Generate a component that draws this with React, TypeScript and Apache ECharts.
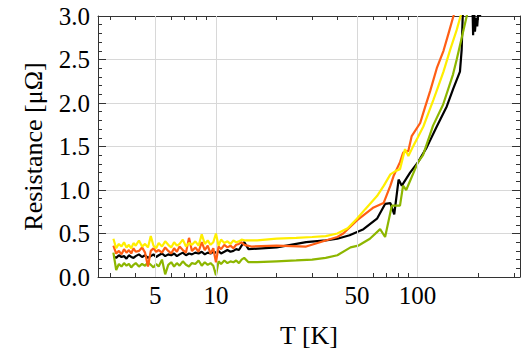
import { useEffect, useRef } from "react";
import * as echarts from "echarts";

// Axis configuration values
const xRange = [2.6, 322];
const xMajorTicks = [5, 10, 50, 100];
const xMinorTicks = [3, 4, 6, 7, 8, 9, 20, 30, 40, 60, 70, 80, 90, 200, 300];
const yRange = [0, 3];

// Low-temperature (noisy) region, shared temperatures [K]
const tLow = [
  3.1, 3.2, 3.3, 3.4, 3.5, 3.6, 3.7, 3.8, 3.9, 4.0, 4.15, 4.3, 4.45, 4.6, 4.75, 4.9,
  5.05, 5.2, 5.4, 5.6, 5.8, 6.0, 6.2, 6.4, 6.6, 6.85, 7.1, 7.35, 7.6, 7.9, 8.2, 8.5,
  8.8, 9.1, 9.4, 9.7, 10.0, 10.3, 10.6, 11.0, 11.4, 11.8, 12.2, 12.6, 13.0, 13.4,
];
const yellowLow = [
  0.44, 0.33, 0.38, 0.35, 0.4, 0.34, 0.37, 0.33, 0.39, 0.36, 0.42, 0.35, 0.38, 0.34, 0.47, 0.36,
  0.33, 0.39, 0.35, 0.41, 0.37, 0.34, 0.4, 0.36, 0.38, 0.43, 0.35, 0.39, 0.37, 0.41, 0.36, 0.49,
  0.38, 0.42, 0.37, 0.4, 0.5, 0.36, 0.43, 0.39, 0.41, 0.38, 0.42, 0.4, 0.41, 0.43,
];
const orangeLow = [
  0.36, 0.27, 0.3, 0.26, 0.32, 0.28, 0.31, 0.27, 0.33, 0.29, 0.3, 0.34, 0.28, 0.12, 0.3, 0.33,
  0.29, 0.31, 0.28, 0.34, 0.3, 0.27, 0.33, 0.29, 0.35, 0.31, 0.28, 0.45, 0.3, 0.34, 0.29, 0.4,
  0.31, 0.36, 0.27, 0.33, 0.17, 0.35, 0.32, 0.37, 0.34, 0.36, 0.33, 0.37, 0.38, 0.4,
];
const blackLow = [
  0.24, 0.22, 0.25, 0.23, 0.24, 0.21, 0.25, 0.23, 0.22, 0.24, 0.26, 0.23, 0.25, 0.22, 0.24, 0.26,
  0.23, 0.25, 0.27, 0.24, 0.26, 0.25, 0.27, 0.24, 0.26, 0.28, 0.25, 0.27, 0.26, 0.28, 0.27, 0.29,
  0.26, 0.28, 0.27, 0.29, 0.28, 0.3, 0.27, 0.29, 0.31, 0.29, 0.3, 0.32, 0.31, 0.36,
];
const greenLow = [
  0.28, 0.08, 0.15, 0.12, 0.16, 0.13, 0.15, 0.11, 0.14, 0.16, 0.12, 0.15, 0.13, 0.17, 0.14, 0.11,
  0.15, 0.12, 0.2, 0.03, 0.14, 0.17, 0.12, 0.16, 0.13, 0.18, 0.14, 0.12, 0.16, 0.15, 0.19, 0.13,
  0.17, 0.14, 0.16, 0.13, 0.02, 0.18, 0.15, 0.19, 0.16, 0.18, 0.17, 0.19, 0.16, 0.2,
];

// Higher-temperature region, per series
const yellowHighT = [14, 16, 20, 25, 30, 35, 40, 45, 50, 55, 62.9, 68, 73.3, 78, 81.8, 86.6, 90, 95.4, 100, 106.8, 113, 119.9, 127, 134.4, 145, 156.3, 163.4, 170];
const yellowHighR = [0.42, 0.42, 0.44, 0.45, 0.46, 0.47, 0.5, 0.56, 0.67, 0.78, 0.93, 1.05, 1.18, 1.22, 1.24, 1.47, 1.39, 1.51, 1.6, 1.73, 1.88, 2.04, 2.2, 2.36, 2.61, 2.84, 3.0, 3.2];

const orangeHighT = [13.8, 15, 20, 28, 35, 40, 42.8, 50, 60.5, 67.8, 73.3, 76, 81.8, 84.8, 90, 93.5, 103, 106.8, 115.5, 124.5, 134.4, 142.4, 150.6, 158];
const orangeHighR = [0.37, 0.35, 0.36, 0.35, 0.42, 0.46, 0.5, 0.65, 0.8, 0.85, 1.05, 1.16, 1.32, 1.43, 1.45, 1.62, 1.77, 1.89, 2.14, 2.4, 2.6, 2.8, 3.0, 3.2];

const blackHighT = [13.8, 14.5, 20, 28, 35, 40, 46, 53.9, 62.9, 69, 73.3, 76.6, 80.5, 83.5, 91.8, 100.5, 111, 124.5, 139.5, 150.6, 162.2, 165.4, 167.4, 175, 186, 188.5, 190.5, 192.5, 195, 197.5, 200, 204, 210];
const blackHighR = [0.4, 0.32, 0.34, 0.4, 0.42, 0.44, 0.48, 0.55, 0.67, 0.84, 0.85, 0.72, 1.12, 1.05, 1.2, 1.32, 1.49, 1.73, 1.96, 2.17, 2.36, 2.61, 3.0, 3.4, 3.4, 2.78, 3.1, 2.82, 2.98, 2.88, 3.05, 3.0, 3.3];

const greenHighT = [13.8, 14.5, 16, 20, 25, 30, 35, 40, 46.5, 50.7, 58, 65.2, 69, 74.5, 81.8, 84.7, 87.8, 100.5, 106.4, 119.3, 133.7, 149.9, 156.3, 167.4, 175.3, 180];
const greenHighR = [0.22, 0.17, 0.17, 0.18, 0.19, 0.2, 0.22, 0.25, 0.34, 0.36, 0.44, 0.55, 0.46, 0.82, 0.82, 1.05, 1.0, 1.32, 1.4, 1.74, 1.98, 2.33, 2.5, 2.8, 3.0, 3.2];

const seriesNames = ["black", "green", "orange", "yellow"];
const seriesColors = ["#000000", "#8db600", "#ff5e14", "#ffee00"];

const FONT = "Liberation Serif";
const lg = (v: number) => Math.log10(v);

function build(lowR: number[], highT: number[], highR: number[]) {
  const pts: number[][] = tLow.map((t, i) => [lg(t), lowR[i]]);
  highT.forEach((t, i) => pts.push([lg(t), highR[i]]));
  return pts;
}

export default function App() {
  const ref = useRef<HTMLDivElement>(null);
  useEffect(() => {
    document.body.style.margin = "0";
    if (!ref.current) return;
    const chart = echarts.init(ref.current, undefined, { renderer: "svg" });
    const datasets = [
      build(blackLow, blackHighT, blackHighR),
      build(greenLow, greenHighT, greenHighR),
      build(orangeLow, orangeHighT, orangeHighR),
      build(yellowLow, yellowHighT, yellowHighR),
    ];
    const frame = { show: true, onZero: false, lineStyle: { color: "#333", width: 1 } };
    const xBase = {
      type: "value" as const,
      min: lg(xRange[0]),
      max: lg(xRange[1]),
      splitLine: { show: false },
      axisLine: frame,
    };
    const xMinor = xMinorTicks.map(lg);
    const xMajor = xMajorTicks.map(lg);
    const yBase = {
      type: "value" as const,
      min: yRange[0],
      max: yRange[1],
      interval: 0.5,
      axisLine: frame,
      axisTick: { show: true, inside: true, length: 8, lineStyle: { color: "#333" } },
      minorTick: { show: true, splitNumber: 5, length: 4, lineStyle: { color: "#333" } },
    };
    chart.setOption({
      animation: false,
      textStyle: { fontFamily: FONT },
      grid: { left: 98, right: 5, top: 16, bottom: 75 },
      xAxis: [
        {
          ...xBase,
          position: "bottom",
          axisTick: { show: true, inside: true, length: 4, customValues: xMinor, lineStyle: { color: "#333" } },
          axisLabel: { show: false },
        },
        {
          ...xBase,
          position: "bottom",
          axisLine: { show: false, onZero: false },
          axisTick: { show: true, inside: true, length: 7, customValues: xMajor, lineStyle: { color: "#333" } },
          axisLabel: {
            show: true,
            customValues: xMajor,
            margin: 6,
            color: "#000",
            fontFamily: FONT,
            fontSize: 25,
            formatter: (v: number) => String(Math.round(Math.pow(10, v))),
          },
          name: "T [K]",
          nameLocation: "middle",
          nameGap: 45,
          nameTextStyle: { color: "#000", fontFamily: FONT, fontSize: 26 },
        },
        {
          ...xBase,
          position: "top",
          axisTick: { show: true, inside: true, length: 4, customValues: xMinor, lineStyle: { color: "#333" } },
          axisLabel: { show: false },
        },
        {
          ...xBase,
          position: "top",
          axisLine: { show: false, onZero: false },
          axisTick: { show: true, inside: true, length: 7, customValues: xMajor, lineStyle: { color: "#333" } },
          axisLabel: { show: false },
        },
      ],
      yAxis: [
        {
          ...yBase,
          position: "left",
          axisLabel: {
            show: true,
            margin: 8,
            color: "#000",
            fontFamily: FONT,
            fontSize: 25,
            formatter: (v: number) => v.toFixed(1),
          },
          splitLine: { show: true, lineStyle: { color: "#d8d8d8", width: 1 } },
          name: "Resistance [μΩ]",
          nameLocation: "middle",
          nameGap: 52,
          nameTextStyle: { color: "#000", fontFamily: FONT, fontSize: 26 },
        },
        {
          ...yBase,
          position: "right",
          axisLabel: { show: false },
          splitLine: { show: false },
        },
      ],
      series: [
        {
          type: "line",
          name: "grid",
          data: [[lg(5), -1]],
          symbol: "none",
          lineStyle: { opacity: 0 },
          z: 1,
          silent: true,
          markLine: {
            silent: true,
            symbol: ["none", "none"],
            label: { show: false },
            lineStyle: { color: "#d8d8d8", width: 1, type: "solid" },
            data: xMajor.map((v) => ({ xAxis: v })),
          },
        },
        ...datasets.map((d, i) => ({
          type: "line",
          name: seriesNames[i],
          data: d,
          symbol: "none",
          showSymbol: false,
          clip: true,
          z: 3 + i,
          lineStyle: { color: seriesColors[i], width: 2.2 },
          itemStyle: { color: seriesColors[i] },
          emphasis: { disabled: true },
        })),
      ],
    });
    return () => chart.dispose();
  }, []);
  return (
    <div
      ref={ref}
      style={{ width: 525, height: 353, background: "#fff", fontFamily: FONT }}
    />
  );
}
